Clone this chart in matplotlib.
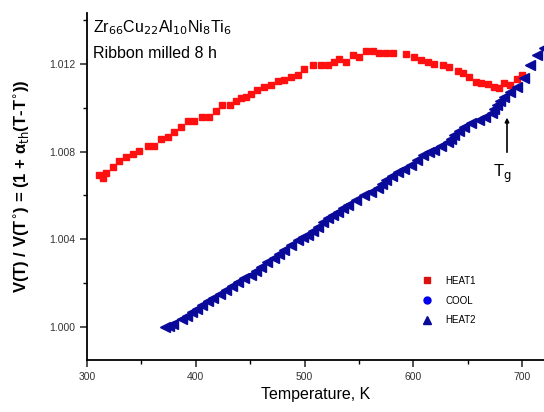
import matplotlib
matplotlib.use("Agg")
import matplotlib.pyplot as plt
from matplotlib.lines import Line2D
from matplotlib.ticker import MultipleLocator, FormatStrFormatter

# HEAT1 (red squares)
heat1_T = [311.1, 314.8, 317.5, 324.0, 329.5, 336.0, 342.4, 348.0, 356.3, 361.8,
           368.3, 374.7, 380.3, 386.7, 393.2, 398.7, 406.1, 412.5, 418.1, 424.5,
           431.0, 436.5, 441.1, 445.8, 450.4, 455.9, 462.4, 468.8, 475.3, 480.8,
           487.3, 493.7, 499.3, 507.6, 514.9, 521.4, 526.9, 531.5, 538.0, 544.5,
           550.0, 556.5, 562.9, 568.4, 574.9, 581.4, 593.4, 600.7, 607.2, 613.6,
           619.2, 627.5, 633.0, 641.3, 645.9, 651.5, 657.9, 662.5, 668.9, 674.5,
           678.2, 682.8, 688.4, 694.8, 699.4]
heat1_V = [1.00693, 1.00679, 1.00702, 1.00730, 1.00757, 1.00775, 1.00789, 1.00803, 1.00825, 1.00825,
           1.00857, 1.00866, 1.00889, 1.00912, 1.00939, 1.00939, 1.00958, 1.00958, 1.00985, 1.01012,
           1.01012, 1.01031, 1.01044, 1.01049, 1.01062, 1.01081, 1.01094, 1.01104, 1.01122, 1.01126,
           1.01140, 1.01149, 1.01176, 1.01195, 1.01195, 1.01195, 1.01208, 1.01222, 1.01208, 1.01240,
           1.01231, 1.01259, 1.01259, 1.01249, 1.01249, 1.01249, 1.01245, 1.01231, 1.01218, 1.01208,
           1.01199, 1.01195, 1.01186, 1.01167, 1.01158, 1.01140, 1.01117, 1.01113, 1.01108, 1.01094,
           1.01090, 1.01113, 1.01104, 1.01131, 1.01149]

# COOL (blue)
cool_T = [375.6, 392.3, 401.5, 411.6, 421.8, 432.8, 443.9, 455.0, 465.1, 476.2,
          487.3, 498.3, 507.6, 516.8, 526.0, 535.2, 547.2, 561.1, 571.2, 580.4,
          591.5, 603.5, 614.6, 625.6, 634.9, 642.3, 653.3, 666.2, 674.5, 679.1]
cool_V = [1.00005, 1.00050, 1.00082, 1.00119, 1.00150, 1.00187, 1.00223, 1.00255, 1.00296, 1.00333,
          1.00374, 1.00410, 1.00438, 1.00479, 1.00511, 1.00543, 1.00579, 1.00616, 1.00652, 1.00689,
          1.00720, 1.00762, 1.00798, 1.00825, 1.00857, 1.00894, 1.00930, 1.00958, 1.00994, 1.01031]

# HEAT2 (blue triangles)
heat2_T = [372.0, 379.3, 387.6, 396.9, 406.1, 416.2, 427.3, 438.4, 450.4, 459.6,
           471.6, 480.8, 493.7, 502.9, 512.2, 521.4, 530.6, 539.8, 554.6, 567.5,
           574.9, 586.0, 598.0, 609.0, 619.2, 632.1, 637.6, 646.9, 659.8, 671.8,
           676.4, 682.8, 688.4, 694.8, 701.3, 706.8, 713.3, 719.7]
heat2_V = [1.00000, 1.00014, 1.00036, 1.00068, 1.00100, 1.00132, 1.00169, 1.00205, 1.00237, 1.00274,
           1.00315, 1.00351, 1.00397, 1.00420, 1.00456, 1.00497, 1.00524, 1.00556, 1.00602, 1.00634,
           1.00670, 1.00707, 1.00739, 1.00784, 1.00807, 1.00844, 1.00876, 1.00912, 1.00944, 1.00976,
           1.01012, 1.01049, 1.01072, 1.01094, 1.01135, 1.01195, 1.01240, 1.01272]

x_ticks = [300, 400, 500, 600, 700]
y_ticks = [1.000, 1.004, 1.008, 1.012]
tg_T = 686
tg_arrow_V = (1.00784, 1.00967)

plt.rcParams['font.family'] = ['Liberation Sans', 'DejaVu Sans']

fig = plt.figure(figsize=(5.44, 4.12), dpi=100)
ax = fig.add_axes([0.16, 0.126, 0.84, 0.842])

red = '#ff1010'
navy = '#0a0a9a'

ax.plot(heat1_T, heat1_V, ls='none', marker='s', ms=3.8, color=red, mec=red)
ax.plot(cool_T, cool_V, ls='none', marker='<', ms=6.5, color=navy, mec=navy)
ax.plot(heat2_T, heat2_V, ls='none', marker='<', ms=6.5, color=navy, mec=navy)

ax.set_xlim(300, 720)
ax.set_ylim(0.9985, 1.0143)
ax.set_xticks(x_ticks)
ax.set_yticks(y_ticks)
ax.xaxis.set_minor_locator(MultipleLocator(50))
ax.yaxis.set_minor_locator(MultipleLocator(0.002))
ax.yaxis.set_major_formatter(FormatStrFormatter('%.3f'))
for s in ['top', 'right']:
    ax.spines[s].set_visible(False)
for s in ['left', 'bottom']:
    ax.spines[s].set_linewidth(1.3)
ax.tick_params(which='major', direction='out', length=5, width=1.2, labelsize=7.5, colors='#333333')
ax.tick_params(which='minor', direction='out', length=3, width=1.0)

ax.set_xlabel('Temperature, K', fontsize=11.5, labelpad=4)
ax.set_ylabel(r'V(T) / V(T$^{\circ}$) = (1 + α$_{\rm th}$(T-T$^{\circ}$))',
              fontsize=12, fontweight='bold', labelpad=12)

ax.text(0.012, 0.985, r'Zr$_{66}$Cu$_{22}$Al$_{10}$Ni$_{8}$Ti$_{6}$', transform=ax.transAxes,
        fontsize=11.5, va='top', ha='left')
ax.text(0.012, 0.905, 'Ribbon milled 8 h', transform=ax.transAxes,
        fontsize=11.5, va='top', ha='left')

ax.annotate('', xy=(tg_T, tg_arrow_V[1]), xytext=(tg_T, tg_arrow_V[0]),
            arrowprops=dict(arrowstyle='-|>', color='black', lw=1.2, mutation_scale=6))
ax.text(tg_T - 4, 1.0070, r'T$_{\rm g}$', fontsize=12, ha='center', va='center')

handles = [Line2D([], [], ls='none', marker='s', ms=5, color='#dd1010'),
           Line2D([], [], ls='none', marker='o', ms=5, color='#0000ee'),
           Line2D([], [], ls='none', marker='^', ms=6, color=navy)]
leg = ax.legend(handles, ['HEAT1', 'COOL', 'HEAT2'], loc='lower right',
                bbox_to_anchor=(0.87, 0.075), frameon=False, fontsize=7,
                handletextpad=1.4, labelspacing=1.0, handlelength=1.0)

fig.savefig('out.png', dpi=100)
